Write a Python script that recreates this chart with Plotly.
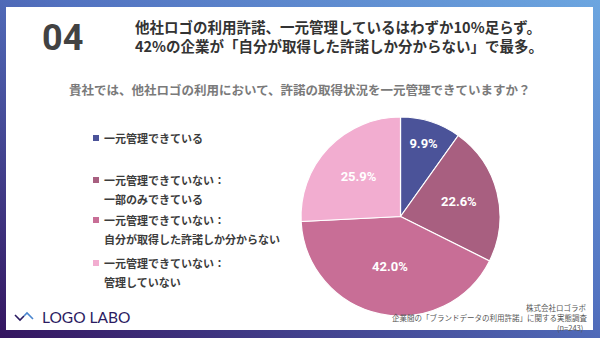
import plotly.graph_objects as go
import base64

labels = [["一元管理できている"],
          ["一元管理できていない：", "一部のみできている"],
          ["一元管理できていない：", "自分が取得した許諾しか分からない"],
          ["一元管理できていない：", "管理していない"]]
values = [9.9, 22.6, 42.0, 25.9]
colors = ["#4b5399", "#a85f80", "#c86e96", "#f2add0"]
legend_top = [138, 180, 220, 263]  # px from top, first line of each legend entry
source_lines = ["株式会社ロゴラボ", "企業間の「ブランドデータの利用許諾」に関する実態調査", "(n=243)"]

W, H = 600, 338
JP = "Noto Sans CJK JP"
LINE = 19

def py(y):
    return 1 - y / H

def px(x):
    return x / W

svg = f'''<svg xmlns="http://www.w3.org/2000/svg" width="{W}" height="{H}" viewBox="0 0 {W} {H}" preserveAspectRatio="none">
<defs><linearGradient id="g" x1="1" y1="0" x2="0" y2="1">
<stop offset="0" stop-color="#6ca6e0"/><stop offset="0.45" stop-color="#5272c0"/>
<stop offset="1" stop-color="#34155f"/></linearGradient></defs>
<rect width="{W}" height="{H}" fill="url(#g)"/></svg>'''
uri = "data:image/svg+xml;base64," + base64.b64encode(svg.encode()).decode()

fig = go.Figure()
fig.add_trace(go.Pie(
    values=values, labels=[" ".join(l) for l in labels],
    marker=dict(colors=colors, line=dict(color="white", width=1.2)),
    sort=False, direction="clockwise", rotation=0,
    texttemplate="%{value:.1f}%", textinfo="text",
    textposition="inside", insidetextorientation="horizontal",
    textfont=dict(family="Roboto", size=13, color="white", weight="bold"),
    domain=dict(x=[px(301), px(500)], y=[py(316), py(117)]),
    showlegend=False, hoverinfo="label+percent",
))

shapes = [dict(type="rect", xref="paper", yref="paper", x0=px(6), x1=px(593), y0=py(330), y1=py(7),
               fillcolor="white", line=dict(width=0), layer="below")]
annotations = []
for lines, c, yt in zip(labels, colors, legend_top):
    shapes.append(dict(type="rect", xref="paper", yref="paper", x0=px(93), x1=px(99),
                       y0=py(yt + 3), y1=py(yt - 3), fillcolor=c, line=dict(width=0)))
    for i, t in enumerate(lines):
        annotations.append(dict(x=px(102), y=py(yt + i * LINE), xref="paper", yref="paper", text=t,
                                showarrow=False, xanchor="left", yanchor="middle", align="left",
                                font=dict(family=JP, size=11, color="#3c3c3c", weight="bold")))

annotations += [
    dict(x=px(40), y=py(38), text="04", showarrow=False, xanchor="left", yanchor="middle",
         font=dict(family="Roboto", size=36, color="#424242", weight="bold")),
    dict(x=px(133), y=py(27), text="他社ロゴの利用許諾、一元管理しているはわずか10%足らず。",
         showarrow=False, xanchor="left", yanchor="middle", align="left",
         font=dict(family=JP, size=14.5, color="#333333", weight="bold")),
    dict(x=px(133), y=py(45), text="42%の企業が「自分が取得した許諾しか分からない」で最多。",
         showarrow=False, xanchor="left", yanchor="middle", align="left",
         font=dict(family=JP, size=14.5, color="#333333", weight="bold")),
    dict(x=px(300), y=py(89), text="貴社では、他社ロゴの利用において、許諾の取得状況を一元管理できていますか？",
         showarrow=False, xanchor="center", yanchor="middle",
         font=dict(family=JP, size=12.5, color="#7a7a7a", weight="bold")),
    dict(x=px(40), y=py(317), text="LOGO LABO", showarrow=False, xanchor="left", yanchor="middle",
         font=dict(family="Lato", size=15.5, color="#2b1b62")),
]
for t, yy, xr in zip(source_lines, [307, 317.5, 327.5], [588, 588, 584]):
    annotations.append(dict(x=px(xr), y=py(yy), text=t, showarrow=False, xanchor="right",
                            yanchor="middle", borderpad=0,
                            font=dict(family=JP, size=7.5, color="#555555")))
# logo wave icon
shapes.append(dict(type="path", xref="paper", yref="paper",
                   path=f"M {px(15)},{py(315)} L {px(20)},{py(320)} L {px(24)},{py(316)}",
                   line=dict(color="#2b1b62", width=1.6)))
shapes.append(dict(type="path", xref="paper", yref="paper",
                   path=f"M {px(24)},{py(316)} L {px(27)},{py(313)} L {px(33)},{py(319)}",
                   line=dict(color="#4a86cf", width=1.6)))

fig.update_layout(
    width=W, height=H, margin=dict(l=0, r=0, t=0, b=0),
    paper_bgcolor="#4a5fb0", plot_bgcolor="white",
    shapes=shapes, annotations=annotations,
    images=[dict(source=uri, xref="paper", yref="paper", x=0, y=1, sizex=1, sizey=1,
                 xanchor="left", yanchor="top", sizing="stretch", layer="below")],
)
fig.write_html("out.html")
